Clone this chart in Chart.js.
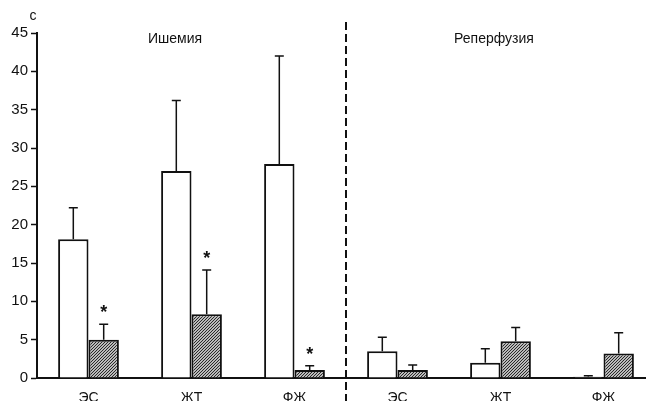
<!DOCTYPE html>
<html>
<head>
<meta charset="utf-8">
<script src="https://cdn.jsdelivr.net/npm/chart.js@4"></script>
<style>
    html, body { margin: 0; padding: 0; background: #fff; overflow: hidden; }
    canvas { display: block; }
</style>
</head>
<body>
<canvas id="chart" width="655" height="401"></canvas>
<script>
// Data (seconds)
const categories = ['ЭС', 'ЖТ', 'ФЖ', 'ЭС', 'ЖТ', 'ФЖ'];
const controlValues = [18.1, 27.0, 27.9, 3.5, 2.0, 0.15];
const controlErrTop = [22.2, 36.2, 42.0, 5.3, 3.8, 0.28];
const treatedValues = [5.0, 8.3, 1.05, 1.05, 4.8, 3.2];
const treatedErrTop = [7.0, 14.1, 1.6, 1.7, 6.6, 5.9];
const significant = [true, true, true, false, false, false];
const yTicks = [0, 5, 10, 15, 20, 25, 30, 35, 40, 45];
const sectionLabels = ['Ишемия', 'Реперфузия'];

const fontFamily = '"Liberation Sans", Arial, sans-serif';

// Diagonal hatch pattern for the second series
function makeHatch() {
    const c = document.createElement('canvas');
    c.width = 3;
    c.height = 3;
    const g = c.getContext('2d');
    g.fillStyle = '#ffffff';
    g.fillRect(0, 0, 3, 3);
    g.strokeStyle = '#222';
    g.lineWidth = 1.2;
    g.beginPath();
    g.moveTo(0, 3); g.lineTo(3, 0);
    g.moveTo(-1, 1); g.lineTo(1, -1);
    g.moveTo(2, 4); g.lineTo(4, 2);
    g.stroke();
    return g.createPattern(c, 'repeat');
}

// Error bars, significance stars, section divider and labels
const extras = {
    id: 'extras',
    afterDatasetsDraw(chart) {
        const ctx = chart.ctx;
        const y = chart.scales.y;
        const x = chart.scales.x;
        const tops = [controlErrTop, treatedErrTop];
        const vals = [controlValues, treatedValues];
        ctx.save();
        ctx.strokeStyle = '#111';
        ctx.lineWidth = 1.5;
        tops.forEach((arr, di) => {
            const meta = chart.getDatasetMeta(di);
            meta.data.forEach((bar, i) => {
                const yb = y.getPixelForValue(vals[di][i]);
                const yt = y.getPixelForValue(arr[i]);
                ctx.beginPath();
                ctx.moveTo(bar.x, yb);
                ctx.lineTo(bar.x, yt);
                ctx.moveTo(bar.x - 4.5, yt);
                ctx.lineTo(bar.x + 4.5, yt);
                ctx.stroke();
                if (di === 1 && significant[i]) {
                    ctx.fillStyle = '#111';
                    ctx.font = 'bold 18px ' + fontFamily;
                    ctx.textAlign = 'center';
                    ctx.textBaseline = 'middle';
                    ctx.fillText('*', bar.x, yt - 11);
                }
            });
        });

        // dashed divider between the two groups
        const xd = (x.getPixelForValue(2) + x.getPixelForValue(3)) / 2;
        ctx.setLineDash([8, 4]);
        ctx.lineWidth = 2;
        ctx.strokeStyle = '#111';
        ctx.beginPath();
        ctx.moveTo(xd, 22);
        ctx.lineTo(xd, 401);
        ctx.stroke();
        ctx.setLineDash([]);

        ctx.fillStyle = '#111';
        ctx.font = '14px ' + fontFamily;
        ctx.textAlign = 'center';
        ctx.textBaseline = 'middle';
        ctx.fillText(sectionLabels[0], 175, 39);
        ctx.fillText(sectionLabels[1], 494, 39);

        // unit label
        ctx.font = '14px ' + fontFamily;
        ctx.fillText('с', 33, 16);
        ctx.restore();
    }
};

const ctx = document.getElementById('chart').getContext('2d');
new Chart(ctx, {
    type: 'bar',
    data: {
        labels: categories,
        datasets: [{
            data: controlValues,
            backgroundColor: '#ffffff',
            borderColor: '#111',
            borderWidth: 2,
            borderSkipped: 'bottom'
        }, {
            data: treatedValues,
            backgroundColor: makeHatch(),
            borderColor: '#111',
            borderWidth: 2,
            borderSkipped: 'bottom'
        }]
    },
    options: {
        responsive: false,
        devicePixelRatio: 1,
        animation: false,
        layout: { padding: { top: 33, left: 0, right: 0, bottom: 0 } },
        plugins: {
            legend: { display: false },
            tooltip: { enabled: false }
        },
        datasets: {
            bar: { categoryPercentage: 0.59, barPercentage: 1.0 }
        },
        scales: {
            x: {
                grid: { display: false },
                border: { color: '#111', width: 2 },
                ticks: {
                    color: '#111',
                    font: { family: fontFamily, size: 14 },
                    padding: 4
                },
                afterFit(scale) { scale.height = 23; }
            },
            y: {
                min: 0,
                max: 45,
                afterBuildTicks(scale) {
                    scale.ticks = yTicks.map(v => ({ value: v }));
                },
                grid: {
                    drawOnChartArea: false,
                    drawTicks: true,
                    tickLength: 6,
                    tickWidth: 1.5,
                    tickColor: '#111'
                },
                border: { color: '#111', width: 2 },
                ticks: {
                    color: '#111',
                    font: { family: fontFamily, size: 15 },
                    padding: 3
                },
                afterFit(scale) { scale.width = 37; }
            }
        }
    },
    plugins: [extras]
});
</script>
</body>
</html>
